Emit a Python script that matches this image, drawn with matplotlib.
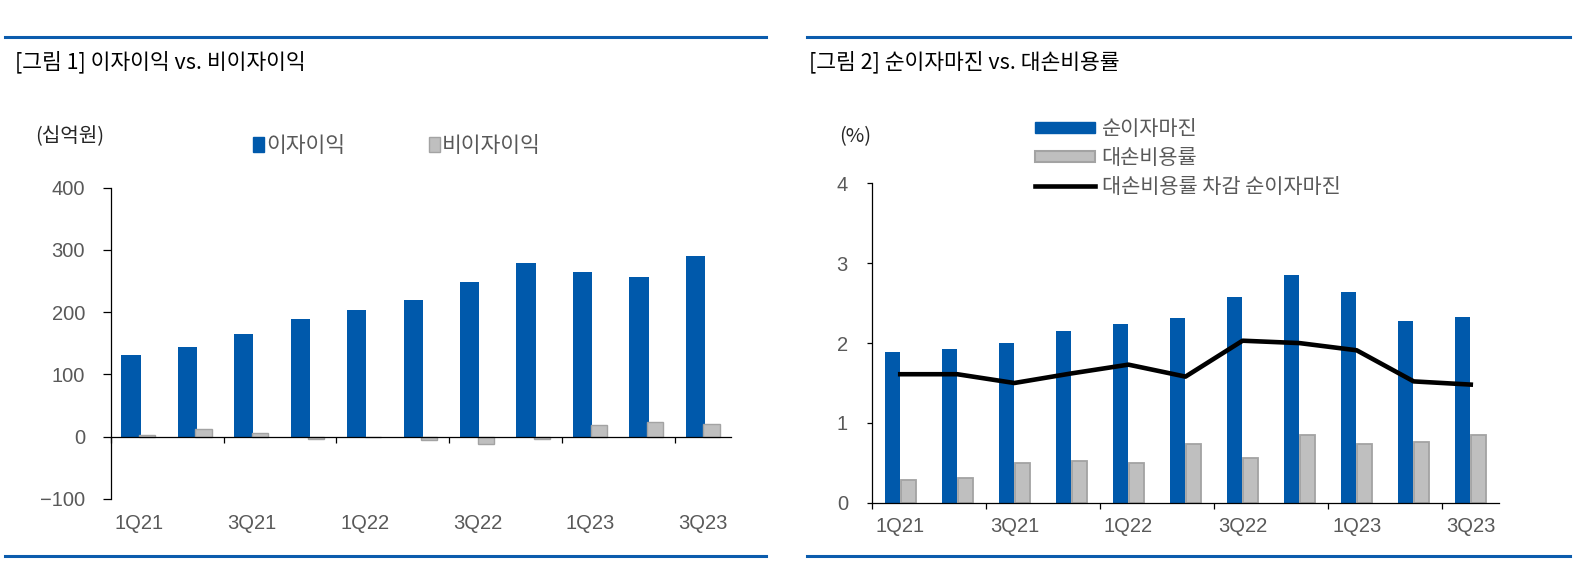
import numpy as np
from matplotlib import pyplot as plt
from matplotlib.patches import Patch
from matplotlib.lines import Line2D

quarters = ['1Q21', '2Q21', '3Q21', '4Q21', '1Q22', '2Q22',
            '3Q22', '4Q22', '1Q23', '2Q23', '3Q23']
# [그림 1] 십억원
interest_income = [131, 144, 165, 189, 203, 220, 248, 279, 264, 256, 290]
non_interest_income = [3, 13, 6, -4, 0, -5, -12, -4, 19, 24, 21]
# [그림 2] %
nim = [1.89, 1.92, 2.00, 2.15, 2.24, 2.31, 2.58, 2.85, 2.64, 2.28, 2.33]
credit_cost = [0.28, 0.31, 0.50, 0.52, 0.50, 0.73, 0.56, 0.85, 0.73, 0.76, 0.85]
nim_after_cc = [1.61, 1.61, 1.50, 1.62, 1.73, 1.58, 2.03, 2.00, 1.91, 1.52, 1.48]

KR = ['Noto Sans CJK KR', 'DejaVu Sans']
NUM = ['Liberation Sans', 'DejaVu Sans']
BLUE = '#0059ab'
GREY = '#bfbfbf'
GREY_EDGE = '#a3a3a3'
RULE = '#0b5cad'
TICK_COLOR = '#595959'

W, H = 1576, 563
fig = plt.figure(figsize=(W / 100, H / 100), dpi=100)


def px(x0, y0, x1, y1):
    # pixel box (top-left origin) -> figure fraction rect
    return [x0 / W, 1 - y1 / H, (x1 - x0) / W, (y1 - y0) / H]


# header / footer rules and titles
for x0, x1 in [(5, 766), (807, 1570)]:
    fig.add_artist(Line2D([x0 / W, x1 / W], [1 - 37 / H] * 2, color=RULE, lw=2.2))
    fig.add_artist(Line2D([x0 / W, x1 / W], [1 - 556 / H] * 2, color=RULE, lw=2.2))
fig.text(15 / W, 1 - 62 / H, '[그림 1] 이자이익 vs. 비이자이익', family=KR,
         fontsize=15.5, weight='medium', va='center', ha='left', color='black')
fig.text(809 / W, 1 - 62 / H, '[그림 2] 순이자마진 vs. 대손비용률', family=KR,
         fontsize=15.5, weight='medium', va='center', ha='left', color='black')

x = np.arange(len(quarters))


def style_axis(ax, ytick_len, xtick_len, ylabel_pad, xlabel_pad):
    for s in ['top', 'right']:
        ax.spines[s].set_visible(False)
    for s in ['left', 'bottom']:
        ax.spines[s].set_linewidth(0.9)
    ax.set_xlim(-0.5, len(quarters) - 0.5)
    ax.set_xticks(x[::2])
    ax.set_xticklabels(quarters[::2])
    ax.set_xticks(np.arange(-0.5, len(quarters) - 1, 2), minor=True)
    ax.tick_params(axis='x', which='major', length=0, pad=xlabel_pad,
                   labelsize=14.5, labelcolor=TICK_COLOR)
    ax.tick_params(axis='x', which='minor', length=xtick_len, width=0.9,
                   direction='out')
    ax.tick_params(axis='y', which='major', length=ytick_len, width=0.9,
                   pad=ylabel_pad, labelsize=14.5, labelcolor=TICK_COLOR)
    for lab in ax.get_xticklabels() + ax.get_yticklabels():
        lab.set_family(NUM)


# ---- chart 1: interest vs non-interest income
ax1 = fig.add_axes(px(110.7, 187.5, 731.5, 499))
ax1.bar(x - 0.14, interest_income, width=0.34, color=BLUE, zorder=2)
ax1.bar(x + 0.145, non_interest_income, width=0.285, color=GREY,
        edgecolor=GREY_EDGE, linewidth=1, zorder=2)
ax1.set_ylim(-100, 400)
ax1.set_yticks(np.arange(-100, 401, 100))
ax1.spines['bottom'].set_position(('data', 0))
ax1.spines['bottom'].set_zorder(3)
style_axis(ax1, 5.5, 4.5, 13, 56)

fig.text(35 / W, 1 - 137 / H, '(십억원)', family=KR, fontsize=14.5,
         va='center', ha='left', color='#262626')
fig.legend(handles=[Patch(color=BLUE), Patch(facecolor=GREY, edgecolor=GREY_EDGE)],
           labels=['이자이익', '비이자이익'], loc='center left',
           bbox_to_anchor=(253 / W, 1 - 146 / H), ncol=2, frameon=False,
           handlelength=0.5, handleheight=0.65, handletextpad=0.1,
           columnspacing=3.9, borderpad=0, borderaxespad=0,
           prop={'family': KR, 'size': 15.5}, labelcolor=TICK_COLOR)

# ---- chart 2: NIM vs credit cost
ax2 = fig.add_axes(px(871.7, 183.5, 1499.3, 502.7))
ax2.bar(x - 0.14, nim, width=0.265, color=BLUE, zorder=2)
ax2.bar(x + 0.14, credit_cost, width=0.265, color=GREY,
        edgecolor=GREY_EDGE, linewidth=1.3, zorder=2)
ax2.plot(x, nim_after_cc, color='black', lw=3.3, zorder=3,
         solid_joinstyle='round')
ax2.set_ylim(0, 4)
ax2.set_yticks(np.arange(0, 5, 1))
style_axis(ax2, 3.6, 4.2, 13.5, 10)

fig.text(839 / W, 1 - 137 / H, '(%)', family=KR, fontsize=14.5,
         va='center', ha='left', color='#262626')
fig.legend(handles=[Patch(color=BLUE),
                    Patch(facecolor=GREY, edgecolor=GREY_EDGE, linewidth=1.5),
                    Line2D([], [], color='black', lw=3.3)],
           labels=['순이자마진', '대손비용률', '대손비용률 차감 순이자마진'],
           loc='upper left', bbox_to_anchor=(1035 / W, 1 - 118 / H),
           frameon=False, handlelength=2.9, handleheight=0.43,
           handletextpad=0.3, labelspacing=0.33, borderpad=0,
           borderaxespad=0, prop={'family': KR, 'size': 15},
           labelcolor=TICK_COLOR)

plt.savefig('out.png', dpi=100)
